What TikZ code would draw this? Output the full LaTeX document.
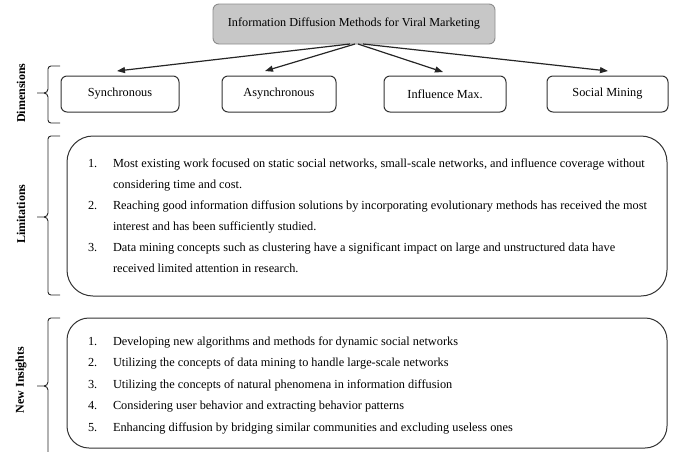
\documentclass[tikz,border=0pt]{standalone}
\usepackage{fontspec}
\setmainfont{Liberation Serif}
\usetikzlibrary{arrows.meta}
\begin{document}
\begin{tikzpicture}[x=1pt,y=-1pt,
  every node/.style={inner sep=0pt, outer sep=0pt},
  titlebox/.style={draw=black!45, fill=black!22, line width=0.9pt, rounded corners=6pt,
    minimum width=282pt, minimum height=40pt, font=\fontsize{12.2}{14}\selectfont},
  dimbox/.style={draw=black!80, line width=1pt, rounded corners=6pt,
    minimum height=36pt, font=\fontsize{12.3}{14}\selectfont},
  bigbox/.style={draw=black!80, line width=1pt, rounded corners=26pt, minimum width=600pt},
  itemtxt/.style={anchor=base west, font=\fontsize{12.3}{14}\selectfont},
  sidelab/.style={rotate=90, font=\fontsize{12}{14}\selectfont\bfseries},
  arr/.style={line width=1.2pt, black!85, -{Triangle[length=8pt,width=6pt]}},
  bracestyle/.style={line width=0.9pt, black!85}
]
\useasboundingbox (0,0) rectangle (673,451);

% title and dimensions
\node[titlebox] (title) at (354,24) {Information Diffusion Methods for Viral Marketing};
\node[dimbox, minimum width=118pt] (s1) at (120,94) {Synchronous};
\node[dimbox, minimum width=114pt] (s2) at (279,94) {Asynchronous};
\node[dimbox, minimum width=122pt] (s3) at (445,94) {Influence Max.};
\node[dimbox, minimum width=121pt] (s4) at (607.5,94) {Social Mining};

\draw[arr] ([xshift=-4pt]title.south) -- ([xshift=-3pt,yshift=5pt]s1.north);
\draw[arr] ([xshift=1pt]title.south) -- ([xshift=-14pt,yshift=5pt]s2.north);
\draw[arr] ([xshift=4pt]title.south) -- ([xshift=-2pt,yshift=4pt]s3.north);
\draw[arr] ([xshift=9pt]title.south) -- ([xshift=0.5pt,yshift=5pt]s4.north);

% big boxes
\node[bigbox, minimum height=160pt] (lim) at (367,216) {};
\node[bigbox, minimum height=130pt, rounded corners=22pt] (ins) at (367,383) {};

% limitations text
\node[itemtxt] (l1n) at (88,167) {1.};
\node[itemtxt] (l1a) at (113,167) {Most existing work focused on static social networks, small-scale networks, and influence coverage without};
\node[itemtxt] (l1b) at (113,188) {considering time and cost.};
\node[itemtxt] (l2n) at (88,209) {2.};
\node[itemtxt] (l2a) at (113,209) {Reaching good information diffusion solutions by incorporating evolutionary methods has received the most};
\node[itemtxt] (l2b) at (113,230) {interest and has been sufficiently studied.};
\node[itemtxt] (l3n) at (88,251) {3.};
\node[itemtxt] (l3a) at (113,251) {Data mining concepts such as clustering have a significant impact on large and unstructured data have};
\node[itemtxt] (l3b) at (113,272) {received limited attention in research.};

% new insights text
\node[itemtxt] (n1n) at (88,345) {1.};
\node[itemtxt] (n1) at (113,345) {Developing new algorithms and methods for dynamic social networks};
\node[itemtxt] (n2n) at (88,366.5) {2.};
\node[itemtxt] (n2) at (113,366.5) {Utilizing the concepts of data mining to handle large-scale networks};
\node[itemtxt] (n3n) at (88,388) {3.};
\node[itemtxt] (n3) at (113,388) {Utilizing the concepts of natural phenomena in information diffusion};
\node[itemtxt] (n4n) at (88,409.5) {4.};
\node[itemtxt] (n4) at (113,409.5) {Considering user behavior and extracting behavior patterns};
\node[itemtxt] (n5n) at (88,431) {5.};
\node[itemtxt] (n5) at (113,431) {Enhancing diffusion by bridging similar communities and excluding useless ones};

% side labels
\node[sidelab] (labdim) at (21,93) {Dimensions};
\node[sidelab] (lablim) at (21,214) {Limitations};
\node[sidelab] (labins) at (21,380) {New Insights};

% braces
\foreach \T/\M/\B in {66/93/123, 136/217/295, 318/386/455}{
  \draw[bracestyle] (60,\T) -- (51,\T) to[out=180,in=90] (48,\T+3) -- (48,\M-4)
      to[out=-90,in=0] (44,\M) -- (37,\M);
  \draw[bracestyle] (60,\B) -- (51,\B) to[out=180,in=-90] (48,\B-3) -- (48,\M+4)
      to[out=90,in=0] (44,\M);
}
\end{tikzpicture}
\end{document}
